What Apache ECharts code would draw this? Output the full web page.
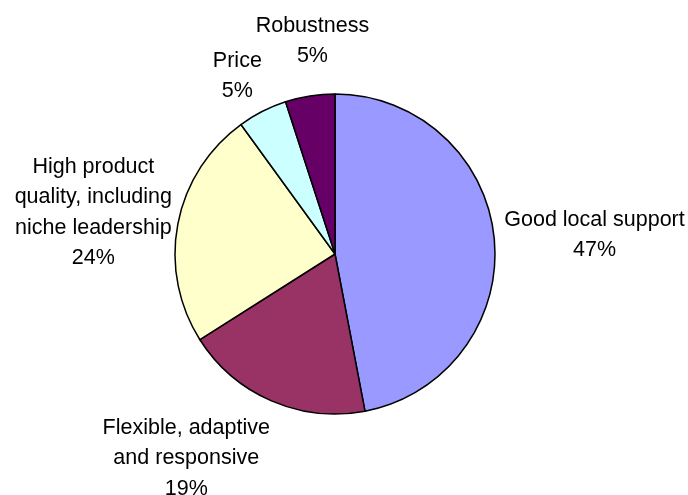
<!DOCTYPE html>
<html>
<head>
<meta charset="utf-8">
<script src="https://cdn.jsdelivr.net/npm/echarts@6/dist/echarts.min.js"></script>
<style>
html,body{margin:0;padding:0;background:#fff;}
#chart{width:688px;height:495px;}
</style>
</head>
<body>
<div id="chart"></div>
<script>
// ---- data ----
const categories = ['Good local support', 'Flexible, adaptive\nand responsive', 'High product\nquality, including\nniche leadership', 'Price', 'Robustness'];
const values = [47, 19, 24, 5, 5];
const colors = ['#9999FF', '#993366', '#FFFFCC', '#CCFFFF', '#660066'];

// ---- layout ----
const CX = 335, CY = 254, R = 160, GAP = 10;
const total = values.reduce((a, b) => a + b, 0);
const midAngles = [];
(function () {
  let acc = 0;
  values.forEach(v => { midAngles.push((acc + v / 2) / total * 2 * Math.PI); acc += v; });
})();
// small per-label nudges (label text placement only)
const labelNudge = [[0, 0], [-45, 3], [4, 2], [-8, 4], [13, -15]];

const chart = echarts.init(document.getElementById('chart'), null, {renderer: 'canvas'});
chart.setOption({
  animation: false,
  backgroundColor: '#ffffff',
  series: [{
    type: 'pie',
    center: [CX, CY],
    radius: R,
    startAngle: 90,
    clockwise: true,
    avoidLabelOverlap: false,
    data: categories.map((c, i) => ({name: c, value: values[i], itemStyle: {color: colors[i]}})),
    itemStyle: {borderColor: '#000', borderWidth: 1.5},
    label: {
      show: true,
      position: 'outside',
      formatter: p => p.name + '\n' + Math.round(p.percent) + '%',
      fontFamily: 'Liberation Sans, Arial, sans-serif',
      fontSize: 21.5,
      lineHeight: 30.3,
      color: '#000',
      align: 'center'
    },
    labelLine: {show: false, length: 10, length2: 0},
    emphasis: {disabled: true},
    labelLayout: function (params) {
      const i = params.dataIndex;
      const a = midAngles[i];
      const sx = Math.sin(a), sy = -Math.cos(a);
      const px = CX + (R + GAP) * sx, py = CY + (R + GAP) * sy;
      const m = Math.max(Math.abs(sx), Math.abs(sy));
      const w = params.labelRect.width, h = params.labelRect.height;
      return {
        x: px + w / 2 * sx / m + labelNudge[i][0],
        y: py + h / 2 * sy / m + labelNudge[i][1],
        align: 'center',
        verticalAlign: 'middle'
      };
    }
  }]
});
</script>
</body>
</html>
